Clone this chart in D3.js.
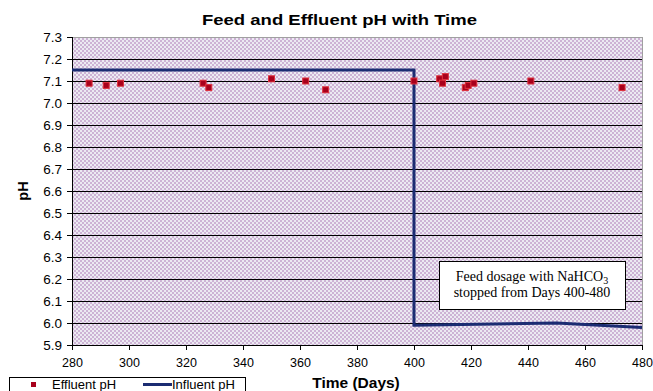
<!DOCTYPE html>
<html>
<head>
<meta charset="utf-8">
<script src="https://cdn.jsdelivr.net/npm/d3@7"></script>
<style>
  body { margin: 0; background: #fff; }
  svg { display: block; font-family: "Liberation Sans", Arial, sans-serif; }
</style>
</head>
<body>
<div id="chart"></div>
<script>
// effluent pH samples (day, pH)
var effluentDays = [286, 292, 297, 326, 328, 350, 362, 369, 400, 409, 410, 411, 418, 419, 421, 441, 473];
var effluentPH   = [7.09, 7.08, 7.09, 7.09, 7.07, 7.11, 7.10, 7.06, 7.10, 7.11, 7.09, 7.12, 7.07, 7.08, 7.09, 7.10, 7.07];

// influent pH (step when NaHCO3 dosage stopped)
var influentDays = [280, 400, 400, 450, 480];
var influentPH   = [7.15, 7.15, 5.99, 6.0, 5.98];

var xTicks = [280, 300, 320, 340, 360, 380, 400, 420, 440, 460, 480];
var yTicks = [5.9, 6.0, 6.1, 6.2, 6.3, 6.4, 6.5, 6.6, 6.7, 6.8, 6.9, 7.0, 7.1, 7.2, 7.3];

var W = 653, H = 391;
var plot = {left: 72, right: 642, top: 37, bottom: 345};

var x = d3.scaleLinear().domain([280, 480]).range([plot.left, plot.right]);
var y = d3.scaleLinear().domain([5.9, 7.3]).range([plot.bottom, plot.top]);

var svg = d3.select("#chart").append("svg")
  .attr("width", W)
  .attr("height", H);

// checkered plot fill
var defs = svg.append("defs");
var pat = defs.append("pattern")
  .attr("id", "check")
  .attr("width", 4).attr("height", 4)
  .attr("patternUnits", "userSpaceOnUse");
pat.append("rect").attr("width", 4).attr("height", 4).attr("fill", "#eceaf2");
pat.append("rect").attr("width", 2).attr("height", 2).attr("fill", "#cdb3d5");
pat.append("rect").attr("x", 2).attr("y", 2).attr("width", 2).attr("height", 2).attr("fill", "#cdb3d5");

svg.append("rect")
  .attr("x", plot.left + 0.5).attr("y", plot.top + 0.5)
  .attr("width", plot.right - plot.left).attr("height", plot.bottom - plot.top)
  .attr("fill", "url(#check)")
  .attr("stroke", "#a0a0a0");

// title
svg.append("text")
  .attr("x", 339.5).attr("y", 25)
  .attr("text-anchor", "middle")
  .attr("font-weight", "bold")
  .attr("font-size", 15)
  .attr("textLength", 275)
  .attr("lengthAdjust", "spacingAndGlyphs")
  .text("Feed and Effluent pH with Time");

// gridlines
svg.append("g")
  .selectAll("line")
  .data(yTicks.slice(1, -1))
  .enter().append("line")
  .attr("x1", plot.left).attr("x2", plot.right)
  .attr("y1", d => Math.round(y(d)) + 0.5)
  .attr("y2", d => Math.round(y(d)) + 0.5)
  .attr("stroke", "#000")
  .attr("stroke-width", 1);

var xAxis = d3.axisBottom(x).tickValues(xTicks).tickSize(5).tickPadding(8).tickFormat(d3.format("d"));
var yAxis = d3.axisLeft(y).tickValues(yTicks).tickSize(5).tickPadding(5).tickFormat(d3.format(".1f"));

var gx = svg.append("g")
  .attr("transform", "translate(0," + plot.bottom + ")")
  .call(xAxis);
gx.select(".domain").attr("d", "M" + plot.left + ",0.5H" + plot.right);
gx.selectAll("text").attr("font-size", 12.5).attr("fill", "#000").attr("font-family", "Liberation Sans, Arial, sans-serif");

var gy = svg.append("g")
  .attr("transform", "translate(" + plot.left + ",0)")
  .call(yAxis);
gy.select(".domain").attr("d", "M0.5," + plot.top + "V" + plot.bottom);
gy.selectAll("text").attr("font-size", 13.5).attr("fill", "#000").attr("font-family", "Liberation Sans, Arial, sans-serif");

// axis titles
svg.append("text")
  .attr("x", 356).attr("y", 388)
  .attr("text-anchor", "middle")
  .attr("font-weight", "bold")
  .attr("font-size", 15.5)
  .text("Time (Days)");

svg.append("text")
  .attr("transform", "translate(28,191) rotate(-90)")
  .attr("text-anchor", "middle")
  .attr("font-weight", "bold")
  .attr("font-size", 14.5)
  .text("pH");

// influent line
var line = d3.line()
  .x((d, i) => x(influentDays[i]))
  .y(d => y(d));

svg.append("path")
  .datum(influentPH)
  .attr("d", line)
  .attr("fill", "none")
  .attr("stroke", "#1b2c72")
  .attr("stroke-width", 3);

// effluent markers
svg.append("g")
  .selectAll("rect")
  .data(effluentPH)
  .enter().append("rect")
  .attr("x", (d, i) => x(effluentDays[i]) - 3)
  .attr("y", d => y(d) - 3)
  .attr("width", 6).attr("height", 6)
  .attr("fill", "#a8001c")
  .attr("stroke", "#e0303c")
  .attr("stroke-width", 1);

// annotation box
var note = svg.append("g");
note.append("rect")
  .attr("x", 439.5).attr("y", 261.5)
  .attr("width", 186).attr("height", 48)
  .attr("fill", "#fff")
  .attr("stroke", "#000");
var t1 = note.append("text")
  .attr("x", 532).attr("y", 281)
  .attr("text-anchor", "middle")
  .attr("font-family", "Liberation Serif, Times New Roman, serif")
  .attr("font-size", 14);
t1.append("tspan").text("Feed dosage with NaHCO");
t1.append("tspan").attr("font-size", 10).attr("dy", 3).text("3");
note.append("text")
  .attr("x", 532).attr("y", 297)
  .attr("text-anchor", "middle")
  .attr("font-family", "Liberation Serif, Times New Roman, serif")
  .attr("font-size", 14)
  .text("stopped from Days 400-480");

// legend
var lg = svg.append("g");
lg.append("rect")
  .attr("x", 9.5).attr("y", 377.5)
  .attr("width", 236).attr("height", 20)
  .attr("fill", "#fff")
  .attr("stroke", "#000");
lg.append("rect")
  .attr("x", 31).attr("y", 382)
  .attr("width", 5).attr("height", 5)
  .attr("fill", "#a8001c");
lg.append("text")
  .attr("x", 52).attr("y", 389)
  .attr("font-size", 13)
  .text("Effluent pH");
lg.append("line")
  .attr("x1", 143).attr("x2", 172)
  .attr("y1", 384.5).attr("y2", 384.5)
  .attr("stroke", "#1b2c72")
  .attr("stroke-width", 3);
lg.append("text")
  .attr("x", 172).attr("y", 389)
  .attr("font-size", 13)
  .text("Influent pH");
</script>
</body>
</html>
